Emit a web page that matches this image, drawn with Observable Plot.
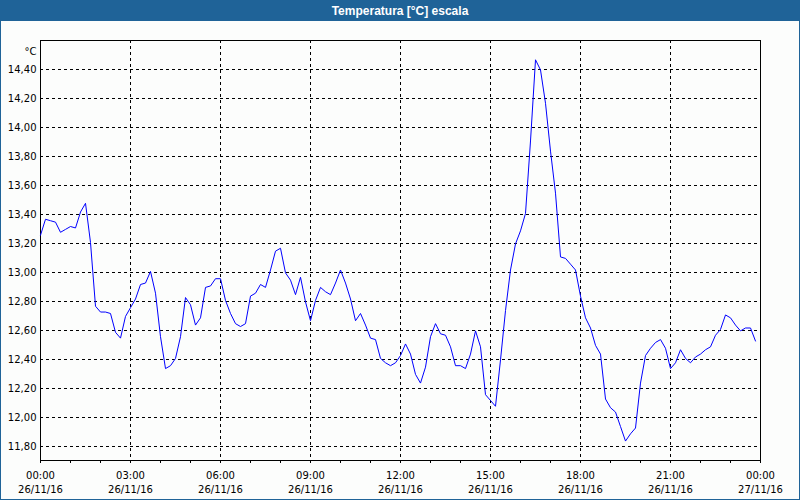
<!DOCTYPE html>
<html><head><meta charset="utf-8">
<script src="https://cdn.jsdelivr.net/npm/d3@7"></script>
<script src="https://cdn.jsdelivr.net/npm/@observablehq/plot@0.6"></script>
<style>
html,body{margin:0;padding:0;background:#fcfdfc;}
#wrap{position:relative;width:800px;height:500px;overflow:hidden;background:#fcfdfc;}
#title{position:absolute;left:0;top:0;width:800px;height:21px;background:#1f6398;color:#fff;font:bold 12px "Liberation Sans",Arial,sans-serif;display:flex;align-items:center;justify-content:center;}
#chart{position:absolute;left:0;top:20px;}
#chart svg{display:block;}
#border{position:absolute;left:0;top:0;width:800px;height:500px;box-sizing:border-box;border:1px solid #1f6398;pointer-events:none;}
</style></head><body>
<div id="wrap"><div id="chart"></div><div id="title">Temperatura [°C] escala</div><div id="border"></div></div>
<script>
// Temperature readings every 10 minutes from 26/11/16 00:00 to 23:50
const stepMinutes = 10;
const temperature = [
  13.26, 13.37, 13.36, 13.35, 13.28, 13.30, 13.32, 13.31, 13.42, 13.48,
  13.21, 12.77, 12.73, 12.73, 12.72, 12.59, 12.55, 12.70, 12.76, 12.82,
  12.92, 12.93, 13.01, 12.86, 12.56, 12.34, 12.36, 12.41, 12.56, 12.83,
  12.78, 12.64, 12.69, 12.90, 12.91, 12.96, 12.96, 12.81, 12.72, 12.65,
  12.63, 12.65, 12.84, 12.86, 12.92, 12.90, 13.02, 13.15, 13.17, 13.00,
  12.95, 12.85, 12.97, 12.80, 12.67, 12.81, 12.90, 12.87, 12.85, 12.93,
  13.02, 12.93, 12.82, 12.67, 12.72, 12.64, 12.55, 12.54, 12.41, 12.38,
  12.36, 12.38, 12.43, 12.51, 12.44, 12.30, 12.24, 12.35, 12.56, 12.65,
  12.58, 12.57, 12.49, 12.36, 12.36, 12.34, 12.44, 12.60, 12.49, 12.16,
  12.12, 12.08, 12.40, 12.74, 13.02, 13.20, 13.29, 13.41, 13.91, 14.47,
  14.40, 14.17, 13.84, 13.55, 13.11, 13.10, 13.06, 13.02, 12.84, 12.69,
  12.62, 12.50, 12.44, 12.13, 12.07, 12.04, 11.94, 11.84, 11.89, 11.93,
  12.24, 12.43, 12.48, 12.52, 12.54, 12.48, 12.34, 12.38, 12.47, 12.41,
  12.38, 12.42, 12.44, 12.47, 12.49, 12.57, 12.61, 12.71, 12.69, 12.64,
  12.60, 12.62, 12.62, 12.53
];
const yTicks = [11.8, 12.0, 12.2, 12.4, 12.6, 12.8, 13.0, 13.2, 13.4, 13.6, 13.8, 14.0, 14.2, 14.4];
const xMajorHours = [0, 3, 6, 9, 12, 15, 18, 21, 24];
const xTickTimes = ["00:00", "03:00", "06:00", "09:00", "12:00", "15:00", "18:00", "21:00", "00:00"];
const xTickDates = ["26/11/16", "26/11/16", "26/11/16", "26/11/16", "26/11/16", "26/11/16", "26/11/16", "26/11/16", "27/11/16"];
const xMinorHours = [0,1,2,3,4,5,6,7,8,9,10,11,12,13,14,15,16,17,18,19,20,21,22,23,24];
const yUnit = "°C";

const data = temperature.map((v, i) => ({hour: i * stepMinutes / 60, value: v}));
const fmtY = v => d3.format(".2f")(v).replace(".", ",");
const fmtX = h => {
  const k = xMajorHours.indexOf(h);
  return k < 0 ? "" : xTickTimes[k] + "\n" + xTickDates[k];
};

const chart = Plot.plot({
  width: 800, height: 480,
  marginTop: 20, marginBottom: 40, marginLeft: 40, marginRight: 40,
  style: {background: "transparent", fontFamily: "DejaVu Sans", fontSize: "10px", color: "#000", overflow: "visible"},
  x: {type: "linear", domain: [0, 24]},
  y: {domain: [11.706, 14.603]},
  marks: [
    Plot.ruleY(yTicks, {stroke: "#000", strokeDasharray: "3,3", shapeRendering: "crispEdges"}),
    Plot.ruleX(xMajorHours.slice(1, -1), {stroke: "#000", strokeDasharray: "3,3", shapeRendering: "crispEdges"}),
    Plot.frame({stroke: "#000", shapeRendering: "crispEdges"}),
    Plot.axisY(yTicks, {tickSize: 0, tickPadding: 4, tickFormat: fmtY, label: null, fill: "#000"}),
    Plot.axisX(xMinorHours, {tickSize: 3, tickPadding: 5, tickFormat: fmtX, label: null, lineHeight: 1.45, fill: "#000", stroke: "#000"}),
    Plot.text([yUnit], {frameAnchor: "top-left", dx: -4, dy: 7, textAnchor: "end", fill: "#000"}),
    Plot.line(data, {x: "hour", y: "value", stroke: "#0000ff", strokeWidth: 1})
  ]
});
document.getElementById("chart").appendChild(chart);
</script>
</body></html>
